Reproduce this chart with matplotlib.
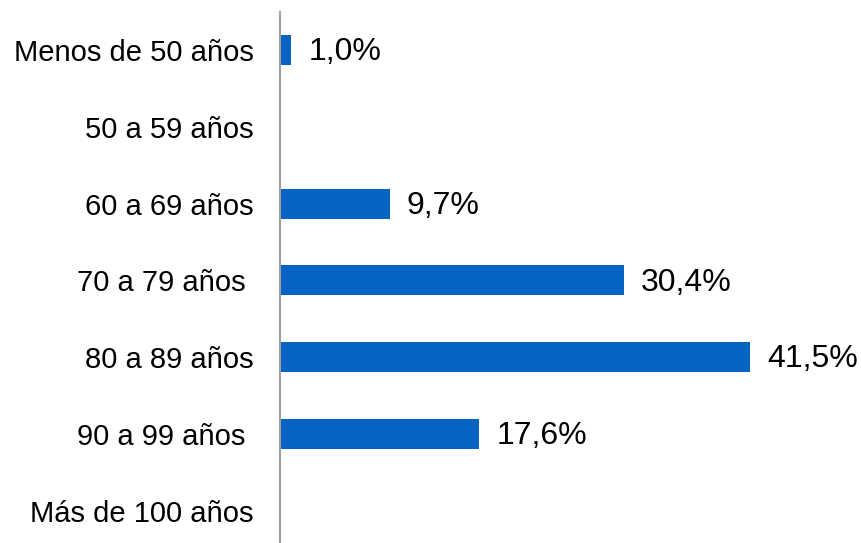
import numpy as np
import matplotlib.pyplot as plt

plt.rcParams['font.family'] = ['Liberation Sans', 'DejaVu Sans']

# age groups and share of cases (%)
categories = ["Menos de 50 años", "50 a 59 años", "60 a 69 años", "70 a 79 años ",
              "80 a 89 años", "90 a 99 años ", "Más de 100 años"]
values = [1.0, 0.0, 9.7, 30.4, 41.5, 17.6, 0.0]

fig = plt.figure(figsize=(8.61, 5.43), dpi=100)
ax = fig.add_axes([280 / 861, 0.0, 566 / 861, 1 - 12 / 543])

y = np.arange(len(categories))
ax.barh(y, values, height=0.39, color="#0563C1")

for yi, v in zip(y, values):
    if v > 0:
        ax.text(v + 1.5, yi + 0.03, f"{v:.1f}%".replace(".", ","), va="center", ha="left",
                fontsize=23, color="#000000", clip_on=False)

ax.set_xlim(0, 50)
ax.set_ylim(6.42, -0.495)
ax.set_yticks(y)
ax.set_yticklabels(categories, fontsize=21)
ax.tick_params(axis="y", length=0, pad=19)
ax.set_xticks([])

for side in ["top", "right", "bottom"]:
    ax.spines[side].set_visible(False)
ax.spines["left"].set_color("#A0A0A0")
ax.spines["left"].set_linewidth(1.5)

fig.savefig("out.png", dpi=100)
